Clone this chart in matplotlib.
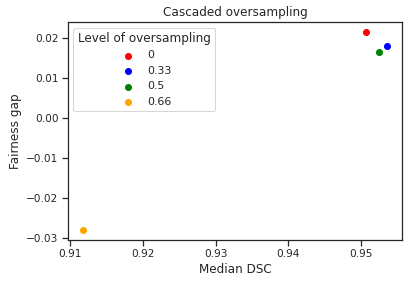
import matplotlib
matplotlib.use("Agg")
import matplotlib.pyplot as plt
import seaborn as sns

# oversampling levels and their results
levels = ["0", "0.33", "0.5", "0.66"]
median_dsc = [0.9507, 0.9536, 0.9524, 0.9118]
fairness_gap = [0.0215, 0.0179, 0.0164, -0.0280]
colors = ["red", "blue", "green", "orange"]

sns.set_theme(style="ticks")
plt.rcParams['font.family'] = ['DejaVu Sans']

fig, ax = plt.subplots(figsize=(409 / 72, 284 / 72), dpi=72)
fig.subplots_adjust(left=0.166, right=0.984, top=0.9225, bottom=0.155)

for lvl, x, y, c in zip(levels, median_dsc, fairness_gap, colors):
    ax.scatter(x, y, color=c, label=lvl, s=36)

ax.set_title("Cascaded oversampling", fontsize=12)
ax.set_xlabel("Median DSC", fontsize=12)
ax.set_ylabel("Fairness gap", fontsize=12)
ax.tick_params(labelsize=10.5)
ax.legend(title="Level of oversampling", fontsize=11, title_fontsize=12)

fig.savefig("out.png", dpi=72)
